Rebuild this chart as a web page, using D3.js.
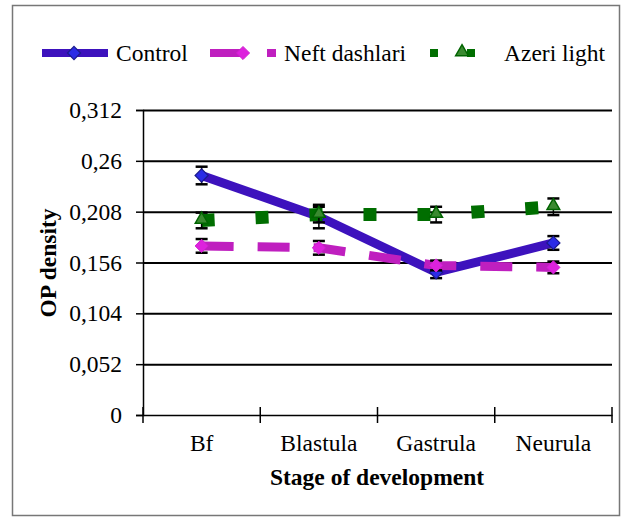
<!DOCTYPE html>
<html>
<head>
<meta charset="utf-8">
<script src="https://cdn.jsdelivr.net/npm/d3@7"></script>
<style>
  body { margin: 0; background: #fff; }
</style>
</head>
<body>
<div id="graphic"></div>
<script>
// data
var stages = ["Bf", "Blastula", "Gastrula", "Neurula"];
var control = [0.245, 0.203, 0.146, 0.176];
var controlErr = [0.009, 0.012, 0.006, 0.007];
var neft = [0.173, 0.171, 0.153, 0.151];
var neftErr = [0.007, 0.007, 0.005, 0.006];
var azeri = [0.199, 0.205, 0.205, 0.213];
var azeriErr = [0.008, 0.008, 0.008, 0.0085];
var yTicks = [0, 0.052, 0.104, 0.156, 0.208, 0.26, 0.312];
var yTickLabels = ["0", "0,052", "0,104", "0,156", "0,208", "0,26", "0,312"];

var W = 624, H = 517;
var FONT = "'Liberation Serif', 'Times New Roman', Tinos, serif";
var FS = 23.5;
var margin = {top: 110, right: 12, bottom: 102, left: 143},
    width = W - margin.left - margin.right,
    height = H - margin.top - margin.bottom;

var svg = d3.select("#graphic").append("svg")
  .attr("width", W)
  .attr("height", H);

// outer frame
svg.append("rect")
  .attr("x", 12.5).attr("y", 5.5)
  .attr("width", 607).attr("height", 510)
  .attr("fill", "none")
  .attr("stroke", "#777")
  .attr("stroke-width", 1.5);

var g = svg.append("g")
  .attr("transform", "translate(" + margin.left + "," + margin.top + ")");

var x = d3.scaleBand().domain(stages).range([0, width]).padding(0);
var y = d3.scaleLinear().domain([0, 0.312]).range([height, 0]);
function cx(d, i) { return x(stages[i]) + x.bandwidth() / 2; }

// gridlines
g.append("g")
  .attr("class", "grid")
  .call(d3.axisLeft(y).tickValues(yTicks.slice(1)).tickSize(-width).tickFormat(""))
  .call(function(s) {
    s.select(".domain").remove();
    s.selectAll("line").attr("stroke", "#000").attr("stroke-width", 2);
  });

// y axis
g.append("g")
  .call(d3.axisLeft(y).tickValues(yTicks).tickSize(7).tickPadding(14)
    .tickFormat(function(d, i) { return yTickLabels[i]; }))
  .call(function(s) {
    s.select(".domain").attr("stroke", "#000").attr("stroke-width", 1.5);
    s.selectAll("line").attr("stroke", "#000").attr("stroke-width", 1.5);
    s.selectAll("text").attr("fill", "#000")
      .style("font-family", FONT).style("font-size", FS + "px");
  });

// x axis
var xa = g.append("g")
  .attr("transform", "translate(0," + height + ")")
  .call(d3.axisBottom(x).tickSize(0).tickPadding(19))
  .call(function(s) {
    s.select(".domain").attr("stroke", "#000").attr("stroke-width", 1.5);
    s.selectAll("text").attr("fill", "#000")
      .style("font-family", FONT).style("font-size", FS + "px");
  });
// category boundary ticks
var edges = stages.map(function(s) { return x(s); }).concat([width]);
xa.selectAll(".edge").data(edges).enter().append("line")
  .attr("x1", function(d) { return d; }).attr("x2", function(d) { return d; })
  .attr("y1", -8).attr("y2", 8)
  .attr("stroke", "#000").attr("stroke-width", 1.5);

// axis titles
svg.append("text")
  .attr("transform", "translate(56,263) rotate(-90)")
  .attr("text-anchor", "middle")
  .style("font-family", FONT).style("font-size", FS + "px").style("font-weight", "bold")
  .text("OP density");
svg.append("text")
  .attr("x", 377).attr("y", 485)
  .attr("text-anchor", "middle")
  .style("font-family", FONT).style("font-size", FS + "px").style("font-weight", "bold")
  .text("Stage of development");

var line = d3.line().x(cx).y(function(d) { return y(d); });
var diamond = d3.symbol().type(d3.symbolDiamond2).size(110);
var tri = d3.symbol().type(d3.symbolTriangle).size(70);

function errorBars(vals, errs) {
  var eb = g.append("g");
  vals.forEach(function(v, i) {
    var px = cx(v, i);
    eb.append("line").attr("x1", px).attr("x2", px)
      .attr("y1", y(v - errs[i])).attr("y2", y(v + errs[i]))
      .attr("stroke", "#000").attr("stroke-width", 1.5);
    [v - errs[i], v + errs[i]].forEach(function(e) {
      eb.append("line").attr("x1", px - 6).attr("x2", px + 6)
        .attr("y1", y(e)).attr("y2", y(e))
        .attr("stroke", "#000").attr("stroke-width", 2.5);
    });
  });
}

// Control
g.append("path").datum(control)
  .attr("d", line).attr("fill", "none")
  .attr("stroke", "#3d12bd").attr("stroke-width", 9);
errorBars(control, controlErr);
g.selectAll(".cm").data(control).enter().append("path")
  .attr("transform", function(d, i) { return "translate(" + cx(d, i) + "," + y(d) + ")"; })
  .attr("d", diamond)
  .attr("fill", "#2b2be6").attr("stroke", "#1b1b8c").attr("stroke-width", 1.2);

// Neft dashlari
g.append("path").datum(neft)
  .attr("d", line).attr("fill", "none")
  .attr("stroke", "#bf1fbf").attr("stroke-width", 9)
  .attr("stroke-dasharray", "32 24");
errorBars(neft, neftErr);
g.selectAll(".nm").data(neft).enter().append("path")
  .attr("transform", function(d, i) { return "translate(" + cx(d, i) + "," + y(d) + ")"; })
  .attr("d", diamond)
  .attr("fill", "#dd22dd").attr("stroke", "#d020d0").attr("stroke-width", 1);

// Azeri light
g.append("path").datum(azeri)
  .attr("d", line).attr("fill", "none")
  .attr("stroke", "#006e00").attr("stroke-width", 13)
  .attr("stroke-dasharray", "13 41");
errorBars(azeri, azeriErr);
g.selectAll(".am").data(azeri).enter().append("path")
  .attr("transform", function(d, i) { return "translate(" + cx(d, i) + "," + (y(d) - 1) + ")"; })
  .attr("d", tri)
  .attr("fill", "#3a8a30").attr("stroke", "#006400").attr("stroke-width", 1.5);

// legend
var lg = svg.append("g");
var ly = 53;
function legendText(xp, t) {
  lg.append("text").attr("x", xp).attr("y", ly + 8)
    .style("font-family", FONT).style("font-size", FS + "px").text(t);
}
lg.append("line").attr("x1", 42).attr("x2", 108).attr("y1", ly).attr("y2", ly)
  .attr("stroke", "#3d12bd").attr("stroke-width", 8);
lg.append("path").attr("transform", "translate(74," + ly + ")")
  .attr("d", diamond)
  .attr("fill", "#2b2be6").attr("stroke", "#1b1b8c").attr("stroke-width", 1.2);
legendText(116, "Control");

lg.append("line").attr("x1", 210).attr("x2", 276).attr("y1", ly).attr("y2", ly)
  .attr("stroke", "#bf1fbf").attr("stroke-width", 8)
  .attr("stroke-dasharray", "33 24");
lg.append("path").attr("transform", "translate(243," + ly + ")")
  .attr("d", diamond)
  .attr("fill", "#dd22dd").attr("stroke", "#d020d0").attr("stroke-width", 1);
legendText(284, "Neft dashlari");

lg.append("line").attr("x1", 430).attr("x2", 476).attr("y1", ly).attr("y2", ly)
  .attr("stroke", "#006e00").attr("stroke-width", 8)
  .attr("stroke-dasharray", "8 29");
lg.append("path").attr("transform", "translate(462," + (ly - 1) + ")")
  .attr("d", tri)
  .attr("fill", "#3a8a30").attr("stroke", "#006400").attr("stroke-width", 1.5);
legendText(504, "Azeri light");
</script>
</body>
</html>
